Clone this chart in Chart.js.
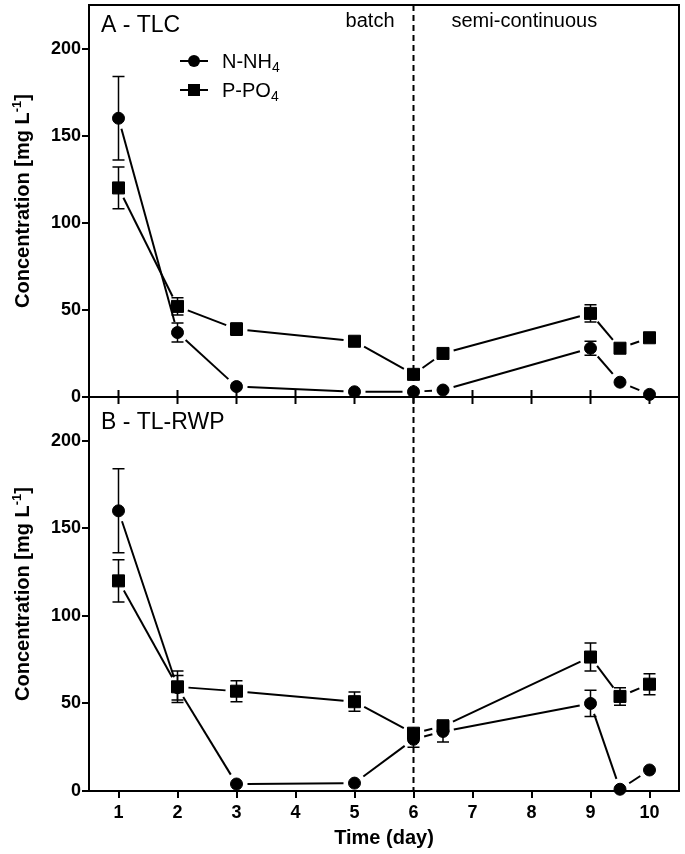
<!DOCTYPE html>
<html lang="en">
<head>
<meta charset="UTF-8">
<title>N-NH4 and P-PO4 concentration</title>
<script src="https://cdn.jsdelivr.net/npm/chart.js"></script>
<style>
  body { margin: 0; background: #fff; }
  .wrap { position: relative; width: 685px; height: 854px; }
  .wrap canvas { position: absolute; left: 0; top: 0; }
</style>
</head>
<body>
<div class="wrap">
  <canvas id="chartA" width="685" height="854"></canvas>
  <canvas id="chartB" width="685" height="854"></canvas>
</div>
<script>
// sampling days (x) shared by both panels
const days = [1, 2, 3, 5, 6, 6.5, 9, 9.5, 10];
const xTicks = [1, 2, 3, 4, 5, 6, 7, 8, 9, 10];
const yTicks = [0, 50, 100, 150, 200];
const phaseChangeDay = 6;

// panel A - TLC
const nh4A = [160, 37, 6, 3, 3, 4, 28, 8.5, 1.5];
const nh4AErr = [24, 5.5, 0, 0, 0, 0, 4, 0, 0];
const po4A = [120, 52, 39, 32, 13, 25, 48, 28, 34];
const po4AErr = [12, 5, 3.5, 0, 0, 0, 5, 0, 0];

// panel B - TL-RWP
const nh4B = [160, 59, 4, 4.5, 29.5, 34, 50, 1, 12];
const nh4BErr = [24, 7, 0, 0, 4.5, 6, 7.5, 0, 0];
const po4B = [120, 59.5, 57, 51, 33, 37, 76.5, 54, 61];
const po4BErr = [12, 9, 6, 5.5, 2, 3.5, 8, 5, 6];

const FONT = "'Liberation Sans', Arial, Helvetica, sans-serif";
const MID = 397;   // shared border between the two panels
const GAP = 11;    // gap between symbols and connecting lines

function toPoints(vals) {
  return days.map((d, i) => ({ x: d, y: vals[i] }));
}

function drawCircle(ctx, x, y) {
  ctx.beginPath();
  ctx.arc(x, y, 6, 0, Math.PI * 2);
  ctx.fill();
}
function drawSquare(ctx, x, y) {
  ctx.fillRect(x - 6, y - 6, 12, 12);
}

// text with a subscript tail
function drawScript(ctx, x, y, main, small, shift, size, weight) {
  ctx.font = `${weight} ${size}px ${FONT}`;
  ctx.fillText(main, x, y);
  const w = ctx.measureText(main).width;
  ctx.font = `${weight} ${Math.round(size * 0.68)}px ${FONT}`;
  ctx.fillText(small, x + w, y + shift);
}

function drawYTitle(ctx, cx, cy) {
  const main = 'Concentration [mg L', sup = '-1', end = ']';
  ctx.save();
  ctx.translate(cx, cy);
  ctx.rotate(-Math.PI / 2);
  ctx.textAlign = 'left';
  ctx.textBaseline = 'alphabetic';
  ctx.font = `bold 20px ${FONT}`;
  const w1 = ctx.measureText(main).width;
  const w3 = ctx.measureText(end).width;
  ctx.font = `bold 13px ${FONT}`;
  const w2 = ctx.measureText(sup).width;
  const x = -(w1 + w2 + w3) / 2;
  ctx.font = `bold 20px ${FONT}`;
  ctx.fillText(main, x, 8);
  ctx.font = `bold 13px ${FONT}`;
  ctx.fillText(sup, x + w1, 0);
  ctx.font = `bold 20px ${FONT}`;
  ctx.fillText(end, x + w1 + w2, 8);
  ctx.restore();
}

function panelPlugin(panel) {
  return {
    id: 'panel' + panel.name,
    beforeDatasetsDraw(chart) {
      const ctx = chart.ctx;
      const xs = chart.scales.x, ys = chart.scales.y;
      const area = chart.chartArea;
      ctx.save();
      ctx.strokeStyle = '#000';

      // batch / semi-continuous separator
      const px6 = xs.getPixelForValue(phaseChangeDay);
      ctx.lineWidth = 2;
      ctx.setLineDash([6, 4]);
      ctx.beginPath();
      ctx.moveTo(px6, area.top);
      ctx.lineTo(px6, area.bottom);
      ctx.stroke();
      ctx.setLineDash([]);

      chart.data.datasets.forEach((ds, i) => {
        const pts = chart.getDatasetMeta(i).data;
        // connecting lines, kept clear of the symbols
        ctx.lineWidth = 2;
        for (let k = 1; k < pts.length; k++) {
          const a = pts[k - 1], b = pts[k];
          const dx = b.x - a.x, dy = b.y - a.y;
          const len = Math.hypot(dx, dy);
          if (len <= 2 * GAP + 1) continue;
          const ux = dx / len, uy = dy / len;
          ctx.beginPath();
          ctx.moveTo(a.x + ux * GAP, a.y + uy * GAP);
          ctx.lineTo(b.x - ux * GAP, b.y - uy * GAP);
          ctx.stroke();
        }
        // error bars
        ctx.lineWidth = 1.5;
        ds.errors.forEach((e, k) => {
          if (!e) return;
          const px = xs.getPixelForValue(ds.data[k].x);
          const hi = ys.getPixelForValue(ds.data[k].y + e);
          const lo = ys.getPixelForValue(ds.data[k].y - e);
          ctx.beginPath();
          ctx.moveTo(px, hi); ctx.lineTo(px, lo);
          ctx.moveTo(px - 6, hi); ctx.lineTo(px + 6, hi);
          ctx.moveTo(px - 6, lo); ctx.lineTo(px + 6, lo);
          ctx.stroke();
        });
      });
      ctx.restore();
    },
    afterDraw(chart) {
      const ctx = chart.ctx;
      const xs = chart.scales.x;
      const area = chart.chartArea;
      ctx.save();
      ctx.strokeStyle = '#000';
      ctx.fillStyle = '#000';
      ctx.lineWidth = 2;
      ctx.strokeRect(area.left, area.top, area.right - area.left, area.bottom - area.top);

      if (!panel.showX) {
        // tick marks crossing the shared middle axis
        xTicks.forEach(v => {
          const px = xs.getPixelForValue(v);
          ctx.beginPath();
          ctx.moveTo(px, area.bottom - 7);
          ctx.lineTo(px, area.bottom + 7);
          ctx.stroke();
        });
      }

      ctx.textBaseline = 'alphabetic';
      ctx.textAlign = 'left';
      ctx.font = `23px ${FONT}`;
      ctx.fillText(panel.title, area.left + 12, area.top + panel.titleDy);

      if (panel.phases) {
        const px6 = xs.getPixelForValue(phaseChangeDay);
        ctx.font = `20px ${FONT}`;
        ctx.textAlign = 'right';
        ctx.fillText('batch', px6 - 19, area.top + 22);
        ctx.textAlign = 'left';
        ctx.fillText('semi-continuous', px6 + 38, area.top + 22);
      }

      if (panel.legend) {
        const rows = [
          { y: 61, main: 'N-NH', sym: drawCircle },
          { y: 90, main: 'P-PO', sym: drawSquare }
        ];
        rows.forEach(r => {
          ctx.beginPath();
          ctx.moveTo(180, r.y); ctx.lineTo(208, r.y);
          ctx.stroke();
          r.sym(ctx, 194, r.y);
          ctx.textAlign = 'left';
          drawScript(ctx, 222, r.y + 7, r.main, '4', 4, 20, 'normal');
        });
      }

      drawYTitle(ctx, 21, (area.top + area.bottom) / 2);
      ctx.restore();
    }
  };
}

function noPadding(s) {
  s.paddingTop = 0; s.paddingBottom = 0;
  s.paddingLeft = 0; s.paddingRight = 0;
}

function buildChart(canvasId, panel) {
  const tickFont = { family: FONT, size: 18, weight: 'bold' };
  const xScale = {
    type: 'linear', min: 0.5, max: 10.5,
    display: panel.showX,
    afterBuildTicks: s => { s.ticks = xTicks.map(v => ({ value: v })); },
    afterFit: s => {
      noPadding(s);
      if (panel.showX) s.height = 63;
    },
    grid: { drawOnChartArea: false, tickLength: 7, color: '#000', lineWidth: 2 },
    border: { display: false },
    ticks: { font: tickFont, color: '#000', padding: 4, maxRotation: 0, autoSkip: false },
    title: { display: true, text: 'Time (day)', color: '#000',
             font: { family: FONT, size: 20, weight: 'bold' }, padding: { top: 4, bottom: 4 } }
  };

  return new Chart(document.getElementById(canvasId), {
    type: 'scatter',
    data: {
      datasets: [
        { label: 'N-NH4', data: toPoints(panel.nh4), errors: panel.nh4Err,
          pointStyle: 'circle', pointRadius: 6, backgroundColor: '#000',
          borderColor: '#000', borderWidth: 1, clip: false },
        { label: 'P-PO4', data: toPoints(panel.po4), errors: panel.po4Err,
          pointStyle: 'rect', pointRadius: 8.5, backgroundColor: '#000',
          borderColor: '#000', borderWidth: 1, clip: false }
      ]
    },
    options: {
      responsive: false,
      animation: false,
      events: [],
      layout: { padding: panel.padding, autoPadding: false },
      plugins: { legend: { display: false }, tooltip: { enabled: false } },
      scales: {
        x: xScale,
        y: {
          min: 0, max: 225,
          afterBuildTicks: s => { s.ticks = yTicks.map(v => ({ value: v })); },
          afterFit: s => { noPadding(s); s.width = 89; },
          grid: { drawOnChartArea: false, tickLength: 7, color: '#000', lineWidth: 2 },
          border: { display: false },
          ticks: { font: tickFont, color: '#000', padding: 1 }
        }
      }
    },
    plugins: [panelPlugin(panel)]
  });
}

buildChart('chartA', {
  name: 'A', title: 'A - TLC', titleDy: 27,
  nh4: nh4A, nh4Err: nh4AErr, po4: po4A, po4Err: po4AErr,
  showX: false, phases: true, legend: true,
  padding: { top: 5, right: 6, bottom: 854 - MID, left: 0 }
});

buildChart('chartB', {
  name: 'B', title: 'B - TL-RWP', titleDy: 32,
  nh4: nh4B, nh4Err: nh4BErr, po4: po4B, po4Err: po4BErr,
  showX: true, phases: false, legend: false,
  padding: { top: MID, right: 6, bottom: 0, left: 0 }
});
</script>
</body>
</html>
